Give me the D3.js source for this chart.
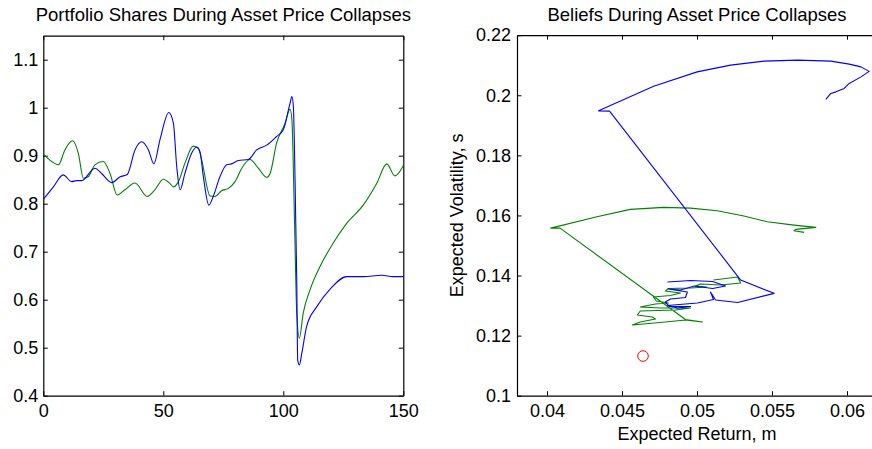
<!DOCTYPE html>
<html>
<head>
<meta charset="utf-8">
<script src="https://cdn.jsdelivr.net/npm/d3@7"></script>
<style>
  html, body { margin: 0; padding: 0; background: #fff; }
  svg { display: block; }
  text { font-family: "Liberation Sans", Arial, Helvetica, sans-serif; fill: #000; }
</style>
</head>
<body>
<svg id="chart" width="872" height="449"></svg>
<script>
// ---------- Left panel: portfolio shares over time ----------
const leftTitle = "Portfolio Shares During Asset Price Collapses";
const leftXTicks = [0, 50, 100, 150];
const leftYTicks = [0.4, 0.5, 0.6, 0.7, 0.8, 0.9, 1, 1.1];

const blueT = [0,4.2,8.3,11.8,13.9,16,21.5,24.3,28.5,32,35,38.2,41,43.8,46.1,48.6,52.3,54.2,55.6,57,59,61.8,63.9,65.3,66.7,69,70.8,73.6,76.4,78.5,81.3,85.4,88.9,93.1,97.2,100,102.8,103.6,104.2,104.9,105.6,106,106.7,107.7,109.7,113.9,119.5,126.4,133.3,141,145.8,150];
const blueV = [0.809,0.835,0.860,0.846,0.848,0.848,0.874,0.863,0.844,0.856,0.861,0.912,0.929,0.912,0.883,0.933,0.990,0.968,0.877,0.829,0.863,0.905,0.918,0.908,0.856,0.797,0.815,0.856,0.881,0.883,0.890,0.892,0.912,0.922,0.940,0.954,1.009,1.023,1.002,0.849,0.641,0.474,0.464,0.488,0.544,0.585,0.622,0.648,0.648,0.651,0.648,0.648];

const greenT = [0,3.5,6.3,9,12.2,14.6,16.7,18.7,21.5,25,27.8,30.8,34,38.2,43.3,46.5,50,52.8,54.2,56.3,59,62.5,64.6,66,69.5,71.5,74.3,77.1,79.9,82.7,86.1,89.6,93.1,94.5,97.2,100.7,102.8,103.6,104.6,105.6,106.7,108.3,111.1,115.3,120.8,126.4,133.3,138.9,143.1,146.5,150];
const greenV = [0.904,0.888,0.881,0.912,0.931,0.905,0.853,0.856,0.881,0.888,0.863,0.818,0.829,0.843,0.815,0.829,0.851,0.842,0.835,0.846,0.884,0.920,0.915,0.891,0.816,0.815,0.827,0.832,0.846,0.874,0.892,0.874,0.855,0.863,0.926,0.967,0.997,0.974,0.780,0.572,0.520,0.572,0.620,0.669,0.718,0.759,0.797,0.842,0.883,0.858,0.879];

// ---------- Right panel: beliefs (expected return vs volatility) ----------
const rightTitle = "Beliefs During Asset Price Collapses";
const rightXLabel = "Expected Return, m";
const rightYLabel = "Expected Volatility, s";
const rightXTicks = [0.04, 0.045, 0.05, 0.055, 0.06];
const rightYTicks = [0.1, 0.12, 0.14, 0.16, 0.18, 0.2, 0.22];

const beliefBlueM = [0.04803,0.04957,0.05104,0.05190,0.05104,0.04983,0.04890,0.04809,0.04936,0.04923,0.04823,0.04789,0.04816,0.04957,0.04870,0.04803,0.05003,0.05110,0.05090,0.05124,0.05271,0.05514,0.05291,0.04417,0.04344,0.04711,0.05001,0.05224,0.05447,0.05670,0.05892,0.06015,0.06093,0.06148,0.06093,0.06015,0.05981,0.05926,0.05892,0.05859];
const beliefBlueS = [0.13783,0.13833,0.13800,0.13650,0.13567,0.13650,0.13517,0.13550,0.13450,0.13267,0.13217,0.13117,0.12968,0.12968,0.12918,0.13001,0.13084,0.13200,0.13450,0.13184,0.13101,0.13407,0.13849,0.19472,0.19482,0.20304,0.20779,0.21003,0.21136,0.21169,0.21136,0.21036,0.20946,0.20796,0.20613,0.20394,0.20227,0.20114,0.20061,0.19861];

const beliefGreenM = [0.05110,0.05271,0.05291,0.05157,0.05023,0.04990,0.05064,0.04957,0.04809,0.04789,0.04890,0.04823,0.04709,0.04729,0.04809,0.04723,0.04622,0.04756,0.04957,0.04856,0.04622,0.04602,0.04702,0.04723,0.04622,0.04569,0.04789,0.04923,0.05037,0.04923,0.04087,0.04025,0.04333,0.04555,0.04778,0.04957,0.05135,0.05313,0.05469,0.05647,0.05792,0.05659,0.05647,0.05714];
const beliefGreenS = [0.13849,0.13949,0.13750,0.13683,0.13716,0.13650,0.13616,0.13583,0.13567,0.13483,0.13417,0.13334,0.13284,0.13151,0.13084,0.13051,0.12951,0.12918,0.12918,0.12851,0.12818,0.12685,0.12618,0.12552,0.12452,0.12352,0.12452,0.12519,0.12452,0.12535,0.15579,0.15579,0.15955,0.16202,0.16268,0.16245,0.16155,0.15979,0.15789,0.15679,0.15602,0.15536,0.15489,0.15436];

const markerM = [0.0464];
const markerS = [0.1132];

// ---------- Drawing ----------
const svg = d3.select("#chart");
svg.append("rect").attr("width", 872).attr("height", 449).attr("fill", "#fff");

const FONT = 18;
const TITLE_FONT = 18.5;
const TICK = 4.5;
const BLUE = "#0000ff", GREEN = "#008000";

function fmt(d) { return String(+d.toFixed(4)); }

function frame(g, x, y, xt, yt, xPad, yPad) {
  const [x0, x1] = x.range(), [y0, y1] = y.range();
  g.append("g").attr("transform", `translate(0,${y0})`)
    .call(d3.axisBottom(x).tickValues(xt).tickFormat(fmt).tickSizeInner(-TICK).tickSizeOuter(0).tickPadding(xPad));
  g.append("g").attr("transform", `translate(0,${y1})`)
    .call(d3.axisTop(x).tickValues(xt).tickFormat("").tickSizeInner(-TICK).tickSizeOuter(0));
  g.append("g").attr("transform", `translate(${x0},0)`)
    .call(d3.axisLeft(y).tickValues(yt).tickFormat(fmt).tickSizeInner(-TICK).tickSizeOuter(0).tickPadding(yPad));
  g.append("g").attr("transform", `translate(${x1},0)`)
    .call(d3.axisRight(y).tickValues(yt).tickFormat("").tickSizeInner(-TICK).tickSizeOuter(0));
  g.selectAll(".domain").attr("stroke", "#000").attr("stroke-width", 1.2);
  g.selectAll(".tick line").attr("stroke", "#000").attr("stroke-width", 1);
  g.selectAll(".tick text").attr("font-size", FONT).attr("font-family", "Liberation Sans, Arial, sans-serif").attr("fill", "#000");
}

// Left panel
const L = svg.append("g");
const lx = d3.scaleLinear().domain([0, 150]).range([43.3, 403.3]);
const ly = d3.scaleLinear().domain([0.4, 1.15]).range([395.7, 35.7]);
frame(L, lx, ly, leftXTicks, leftYTicks, 9, 5);

const lineL = d3.line().x(d => lx(d[0])).y(d => ly(d[1])).curve(d3.curveMonotoneX);
L.append("path").datum(greenT.map((t, i) => [t, greenV[i]]))
  .attr("d", lineL).attr("fill", "none").attr("stroke", GREEN).attr("stroke-width", 1.1);
L.append("path").datum(blueT.map((t, i) => [t, blueV[i]]))
  .attr("d", lineL).attr("fill", "none").attr("stroke", BLUE).attr("stroke-width", 1.1);

L.append("text").attr("x", (lx.range()[0] + lx.range()[1]) / 2).attr("y", 21)
  .attr("text-anchor", "middle").attr("font-size", TITLE_FONT).text(leftTitle);

// Right panel
const R = svg.append("g");
const rx = d3.scaleLinear().domain([0.038, 0.062]).range([517, 877]);
const ry = d3.scaleLinear().domain([0.1, 0.22]).range([395.7, 35.2]);
frame(R, rx, ry, rightXTicks, rightYTicks, 9, 6);

const lineR = d3.line().x(d => rx(d[0])).y(d => ry(d[1])).curve(d3.curveLinear);
R.append("path").datum(beliefGreenM.map((m, i) => [m, beliefGreenS[i]]))
  .attr("d", lineR).attr("fill", "none").attr("stroke", GREEN).attr("stroke-width", 1.1).attr("stroke-linejoin", "round");
R.append("path").datum(beliefBlueM.map((m, i) => [m, beliefBlueS[i]]))
  .attr("d", lineR).attr("fill", "none").attr("stroke", BLUE).attr("stroke-width", 1.1).attr("stroke-linejoin", "round");

R.selectAll("circle.mk").data(markerM.map((m, i) => [m, markerS[i]])).enter()
  .append("circle").attr("class", "mk")
  .attr("cx", d => rx(d[0])).attr("cy", d => ry(d[1])).attr("r", 5.3)
  .attr("fill", "none").attr("stroke", "#ff0000").attr("stroke-width", 1);

const rcx = (rx.range()[0] + rx.range()[1]) / 2;
R.append("text").attr("x", rcx).attr("y", 21)
  .attr("text-anchor", "middle").attr("font-size", TITLE_FONT).text(rightTitle);
R.append("text").attr("x", rcx).attr("y", 440)
  .attr("text-anchor", "middle").attr("font-size", FONT).text(rightXLabel);
R.append("text").attr("transform", `translate(463,${(ry.range()[0] + ry.range()[1]) / 2}) rotate(-90)`)
  .attr("text-anchor", "middle").attr("font-size", FONT).text(rightYLabel);
</script>
</body>
</html>
